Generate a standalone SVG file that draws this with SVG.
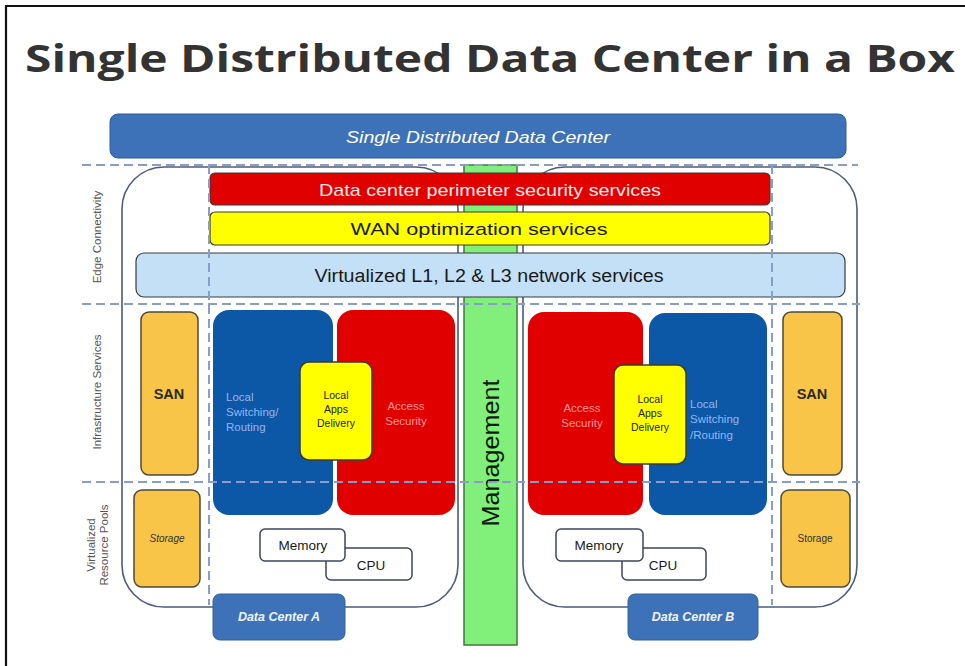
<svg xmlns="http://www.w3.org/2000/svg" width="965" height="666" viewBox="0 0 965 666">
  <style>
    text { font-family: "Liberation Sans", Arial, sans-serif; }
    .title { font-family: "Open Sans", "DejaVu Sans", sans-serif; font-weight: bold; font-size: 38px; fill: #333333; }
    .dash { stroke: #8a9cc8; stroke-width: 2; stroke-dasharray: 9 5; fill: none; }
    .container { fill: #ffffff; stroke: #4d5b7c; stroke-width: 1.6; }
    .band { stroke: #3a3a3a; stroke-width: 1.2; }
    .pool { fill: #f8c548; stroke: #4a4a3a; stroke-width: 1.5; }
    .blue { fill: #0d58a6; }
    .red { fill: #e00000; }
    .apps { fill: #ffff00; stroke: #3a3a3a; stroke-width: 1.5; }
    .res { fill: #ffffff; stroke: #3d4560; stroke-width: 1.5; }
    .dc { fill: #3e72b8; stroke: #35609a; stroke-width: 1; }
    .side { font-size: 11.5px; fill: #555555; }
    .mid { text-anchor: middle; }
    .san { font-size: 14.5px; font-weight: bold; fill: #2a2a1a; }
    .reslabel { font-size: 13.5px; fill: #1a1a1a; }
  </style>

  <!-- frame -->
  <path d="M6 666 V6 H965" fill="none" stroke="#111111" stroke-width="2.2"/>

  <text class="title" x="25" y="72" textLength="930" lengthAdjust="spacingAndGlyphs">Single Distributed Data Center in a Box</text>

  <!-- top banner -->
  <g id="sddc">
    <rect x="110" y="114" width="736" height="44" rx="8" fill="#3e72b8" stroke="#2f5b95" stroke-width="1"/>
    <text x="478" y="143" class="mid" font-size="16" font-style="italic" fill="#ffffff" textLength="264" lengthAdjust="spacingAndGlyphs">Single Distributed Data Center</text>
  </g>

  <!-- data center outlines -->
  <g id="dc-a-outline">
    <rect class="container" x="122" y="167" width="336" height="440" rx="42"/>
  </g>
  <g id="dc-b-outline">
    <rect class="container" x="523" y="167" width="334" height="440" rx="42"/>
  </g>

  <!-- management column -->
  <g id="management">
    <rect x="464" y="165" width="53" height="480" fill="#80f07a" stroke="#3f7a3a" stroke-width="1.5"/>
    <text transform="translate(499 453) rotate(-90)" class="mid" font-size="23" fill="#0a1a0a" textLength="147" lengthAdjust="spacingAndGlyphs">Management</text>
  </g>

  <!-- edge connectivity bands -->
  <g id="perimeter">
    <rect class="band red" x="210" y="173" width="560" height="32" rx="5"/>
    <text x="490" y="196" class="mid" font-size="17" fill="#ffe8e8" textLength="342" lengthAdjust="spacingAndGlyphs">Data center perimeter security services</text>
  </g>
  <g id="wan">
    <rect class="band" x="210" y="212" width="560" height="33" rx="5" fill="#ffff00"/>
    <text x="479" y="235" class="mid" font-size="17" fill="#1a1a1a" textLength="257" lengthAdjust="spacingAndGlyphs">WAN optimization services</text>
  </g>
  <g id="network">
    <rect class="band" x="136" y="253" width="709" height="44" rx="8" fill="#c3e0f7"/>
    <text x="489" y="282" class="mid" font-size="18" fill="#1a1a1a" textLength="349" lengthAdjust="spacingAndGlyphs">Virtualized L1, L2 &amp; L3 network services</text>
  </g>

  <!-- data center A -->
  <g id="san-a">
    <rect class="pool" x="141" y="312" width="57" height="163" rx="8"/>
    <text x="169" y="399" class="mid san">SAN</text>
  </g>
  <g id="storage-a">
    <rect class="pool" x="134" y="490" width="66" height="97" rx="8"/>
    <text x="167" y="542" class="mid" font-size="10" font-style="italic" fill="#333333">Storage</text>
  </g>
  <g id="switching-a">
    <rect class="blue" x="213" y="310" width="120" height="205" rx="16"/>
    <text font-size="11.5" fill="#8fb6f2"><tspan x="226" y="401">Local</tspan><tspan x="226" y="416">Switching/</tspan><tspan x="226" y="431">Routing</tspan></text>
  </g>
  <g id="access-a">
    <rect class="red" x="337" y="310" width="118" height="205" rx="16"/>
    <text font-size="11.5" fill="#ff9a9a" class="mid"><tspan x="406" y="410">Access</tspan><tspan x="406" y="425">Security</tspan></text>
  </g>
  <g id="apps-a">
    <rect class="apps" x="300" y="362" width="72" height="98" rx="9"/>
    <text font-size="10.5" fill="#222222" class="mid"><tspan x="336" y="399">Local</tspan><tspan x="336" y="413">Apps</tspan><tspan x="336" y="427">Delivery</tspan></text>
  </g>
  <g id="cpu-a">
    <rect class="res" x="326" y="548" width="86" height="32" rx="5"/>
    <text x="371" y="570" class="mid reslabel">CPU</text>
  </g>
  <g id="memory-a">
    <rect class="res" x="260" y="529" width="85" height="32" rx="5"/>
    <text x="303" y="550" class="mid reslabel">Memory</text>
  </g>
  <g id="dc-a">
    <rect class="dc" x="213" y="594" width="132" height="46" rx="7"/>
    <text x="279" y="621" class="mid" font-size="12.5" font-style="italic" font-weight="bold" fill="#eef3ff">Data Center A</text>
  </g>

  <!-- data center B -->
  <g id="san-b">
    <rect class="pool" x="783" y="312" width="59" height="163" rx="8"/>
    <text x="812" y="399" class="mid san">SAN</text>
  </g>
  <g id="storage-b">
    <rect class="pool" x="781" y="490" width="69" height="97" rx="8"/>
    <text x="815" y="542" class="mid" font-size="10" fill="#333333">Storage</text>
  </g>
  <g id="access-b">
    <rect class="red" x="528" y="312" width="115" height="203" rx="16"/>
    <text font-size="11.5" fill="#ff9a9a" class="mid"><tspan x="582" y="412">Access</tspan><tspan x="582" y="427">Security</tspan></text>
  </g>
  <g id="switching-b">
    <rect class="blue" x="649" y="313" width="118" height="202" rx="16"/>
    <text font-size="11.5" fill="#8fb6f2"><tspan x="690" y="408">Local</tspan><tspan x="690" y="423">Switching</tspan><tspan x="690" y="439">/Routing</tspan></text>
  </g>
  <g id="apps-b">
    <rect class="apps" x="614" y="365" width="72" height="99" rx="9"/>
    <text font-size="10.5" fill="#222222" class="mid"><tspan x="650" y="403">Local</tspan><tspan x="650" y="417">Apps</tspan><tspan x="650" y="431">Delivery</tspan></text>
  </g>
  <g id="cpu-b">
    <rect class="res" x="622" y="548" width="84" height="32" rx="5"/>
    <text x="663" y="570" class="mid reslabel">CPU</text>
  </g>
  <g id="memory-b">
    <rect class="res" x="556" y="529" width="87" height="32" rx="5"/>
    <text x="599" y="550" class="mid reslabel">Memory</text>
  </g>
  <g id="dc-b">
    <rect class="dc" x="628" y="594" width="130" height="46" rx="7"/>
    <text x="693" y="621" class="mid" font-size="12.5" font-style="italic" font-weight="bold" fill="#eef3ff">Data Center B</text>
  </g>

  <!-- layer guides -->
  <g id="guides">
    <line class="dash" x1="82" y1="165" x2="858" y2="165"/>
    <line class="dash" x1="82" y1="304" x2="860" y2="304"/>
    <line class="dash" x1="82" y1="482" x2="860" y2="482"/>
    <line class="dash" x1="209" y1="165" x2="209" y2="605"/>
    <line class="dash" x1="772" y1="165" x2="772" y2="605"/>
  </g>

  <!-- layer labels -->
  <g id="layer-labels">
    <text class="side mid" transform="translate(101 237) rotate(-90)">Edge Connectivity</text>
    <text class="side mid" transform="translate(101 392) rotate(-90)">Infrastructure Services</text>
    <text class="side mid" transform="translate(95 545) rotate(-90)">Virtualized</text>
    <text class="side mid" transform="translate(108 545) rotate(-90)">Resource Pools</text>
  </g>
</svg>
